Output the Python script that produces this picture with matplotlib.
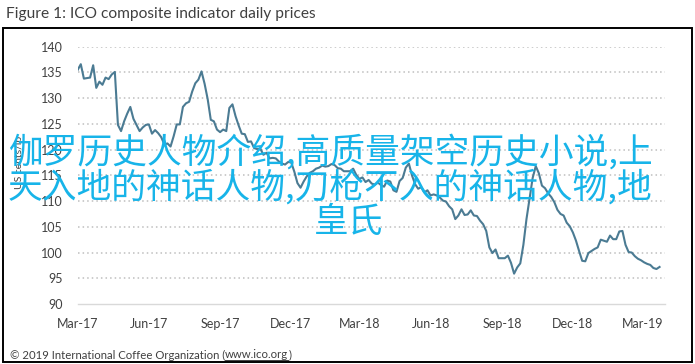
import matplotlib
matplotlib.use("Agg")
import matplotlib.pyplot as plt
import matplotlib.dates as mdates
from matplotlib.patches import Rectangle
from matplotlib.lines import Line2D
import pandas as pd

TXT = "#404040"
LINE = "#4B7B93"
GRID = "#BFBFBF"
CYAN = "#17B4E9"

title = "Figure 1: ICO composite indicator daily prices"
ylabel = "US cents/lb"
source_pre = "\u00a9 2019 International Coffee Organization ("
source_link = "www.ico.org"
overlay = ["伽罗历史人物介绍,高质量架空历史小说,上",
           "天入地的神话人物,刀枪不入的神话人物,地",
           "皇氏"]

start = "2017-03-01"
# ICO composite indicator, US cents/lb, read every 4 days from the chart
prices = [
    135.5, 136.6, 133.8, 133.9, 134.0, 136.4, 132.0, 133.2, 132.6, 134.0,
    133.7, 134.6, 135.1, 124.8, 123.6, 125.5, 127.0, 128.3, 126.0, 124.8,
    123.6, 124.3, 124.8, 124.9, 123.1, 123.8, 123.2, 122.4, 121.0, 121.2,
    120.6, 122.6, 124.9, 124.9, 128.3, 129.0, 129.3, 131.3, 132.9, 133.6,
    135.2, 132.8, 129.8, 125.8, 125.5, 123.9, 123.4, 123.9, 123.6, 128.1,
    128.8, 126.5, 124.7, 123.1, 123.0, 121.5, 121.6, 120.3, 120.1, 120.2,
    119.0, 119.4, 118.3, 118.4, 118.3, 117.7, 117.3, 117.1, 117.6, 117.5,
    115.7, 113.5, 112.6, 113.8, 114.8, 115.5, 115.8, 116.3, 116.5, 116.9,
    116.7, 116.8, 117.2, 117.0, 116.4, 116.3, 115.8, 115.8, 115.8, 116.3,
    115.1, 114.3, 114.6, 113.7, 114.1, 113.4, 113.2, 113.6, 113.1, 112.8,
    114.0, 113.8, 112.1, 111.8, 113.9, 114.5, 116.5, 117.3, 115.0, 113.3,
    112.4, 112.7, 111.7, 112.1, 111.1, 111.3, 111.1, 110.7, 110.1, 109.9,
    109.0, 108.4, 106.5, 107.2, 108.4, 107.3, 107.4, 108.2, 107.2, 107.1,
    106.2, 105.5, 104.2, 101.0, 99.9, 100.6, 98.9, 98.9, 98.9, 99.4,
    98.0, 95.9, 97.1, 97.9, 101.5, 106.5, 110.5, 114.5, 116.8, 115.4,
    113.0, 112.5, 111.5, 110.8, 109.8, 108.3, 107.5, 107.2, 105.8, 105.1,
    103.9, 102.3, 100.3, 98.4, 98.3, 99.9, 100.3, 100.7, 101.0, 102.5,
    102.3, 102.1, 103.3, 102.6, 102.6, 104.1, 104.2, 101.5, 100.1, 100.0,
    99.3, 98.8, 98.5, 98.1, 97.8, 97.6, 97.0, 96.8, 97.2,
]
dates = pd.date_range(start, periods=len(prices), freq="4D")

yticks = list(range(90, 141, 5))
xticks = pd.date_range("2017-03-01", "2019-03-01", freq="3MS")

fig = plt.figure(figsize=(6.95, 3.64), dpi=100)
fig.patch.set_facecolor("white")
ax = fig.add_axes([0.1118, 0.1648, 0.845, 0.7069])

ax.plot(dates, prices, color=LINE, lw=1.5, zorder=3)

ax.set_ylim(90, 140)
ax.set_yticks(yticks)
ax.set_xlim(pd.Timestamp("2017-03-01"), pd.Timestamp("2019-03-30"))
ax.set_xticks(xticks)
ax.xaxis.set_major_formatter(mdates.DateFormatter("%b-%y"))
ax.tick_params(length=0, labelsize=9, colors=TXT)
ax.tick_params(axis="y", pad=11)
ax.tick_params(axis="x", pad=10)
for lab in ax.get_xticklabels() + ax.get_yticklabels():
    lab.set_family("Lato")

for v in yticks[1:]:
    ax.axhline(v, color=GRID, lw=1.1, ls=(0, (1, 2)), zorder=1)
for s in ["top", "right", "left"]:
    ax.spines[s].set_visible(False)
ax.spines["bottom"].set_color("#D9D9D9")
ax.spines["bottom"].set_linewidth(1.0)

ax.set_ylabel(ylabel, fontsize=7.5, color=TXT, family="Lato")
ax.yaxis.set_label_coords(-0.092, 0.55)

# frame and texts
fig.add_artist(Rectangle((3 / 695, 2 / 364), 689 / 695, 334 / 364, transform=fig.transFigure,
                         fill=False, edgecolor="black", lw=1.4))
fig.text(6 / 695, 1 - 14 / 364, title, fontsize=11.2, color=TXT, family="Lato",
         ha="left", va="center")

# source line with underlined link
fig.canvas.draw()
r = fig.canvas.get_renderer()
t1 = fig.text(10 / 695, 1 - 355 / 364, source_pre, fontsize=8.2, color=TXT, family="Lato",
              ha="left", va="center")
x1 = t1.get_window_extent(r).x1
t2 = fig.text(x1 / 695, 1 - 355 / 364, source_link, fontsize=8.2, color=TXT, family="Lato",
              ha="left", va="center")
bb = t2.get_window_extent(r)
t3 = fig.text(bb.x1 / 695, 1 - 355 / 364, ")", fontsize=8.2, color=TXT, family="Lato",
              ha="left", va="center")
fig.add_artist(Line2D([bb.x0 / 695, bb.x1 / 695], [(bb.y0 + 0.5) / 364] * 2,
                      transform=fig.transFigure, color=TXT, lw=0.7))

cjk = ["Noto Sans CJK SC", "DejaVu Sans"]
fig.text(8 / 695, 1 - 153 / 364, overlay[0], fontsize=25, color=CYAN, family=cjk,
         ha="left", va="center", zorder=10)
fig.text(8 / 695, 1 - 188 / 364, overlay[1], fontsize=25, color=CYAN, family=cjk,
         ha="left", va="center", zorder=10)
fig.text(349 / 695, 1 - 222 / 364, overlay[2], fontsize=25, color=CYAN, family=cjk,
         ha="center", va="center", zorder=10)

fig.savefig("out.png", dpi=100, facecolor="white")
